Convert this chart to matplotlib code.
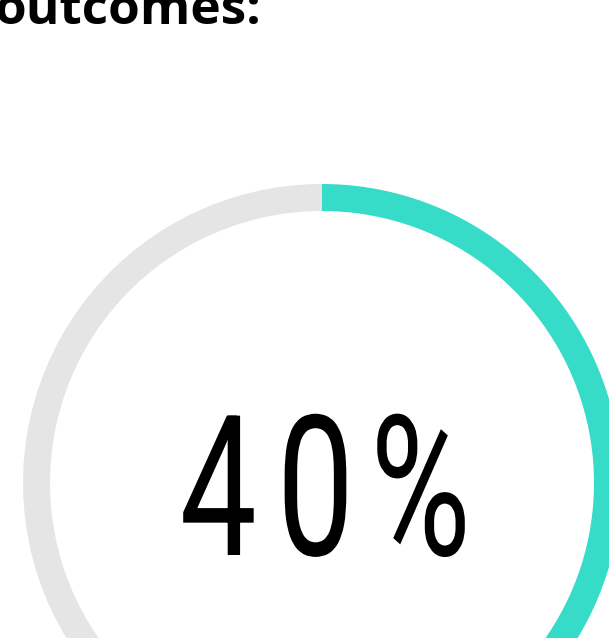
import matplotlib.pyplot as plt
from matplotlib.textpath import TextPath
from matplotlib.patches import PathPatch
from matplotlib.font_manager import FontProperties
from matplotlib.transforms import Affine2D

# donut: share of outcomes
labels = ['outcomes', 'rest']
values = [40, 60]
colors = ['#36dcc8', '#e5e5e5']
title = 'outcomes:'
center_text = '40%'

W, H = 609, 638
fig = plt.figure(figsize=(W / 100, H / 100), dpi=100)
ax = fig.add_axes([0, 0, 1, 1])

cx, cy = 322, 155
ax.pie(values, colors=colors, startangle=90, counterclock=False,
       radius=299, center=(cx, cy),
       wedgeprops=dict(width=27, linewidth=0))
ax.set_xlim(0, W)
ax.set_ylim(0, H)
ax.set_aspect('equal')
ax.axis('off')

# big number in the middle, narrow glyphs with wide tracking (DIN-like look)
fp = FontProperties(family='Roboto', weight='normal')
size = 196
squeeze = 0.7
gap = 31
glyphs = [TextPath((0, 0), ch, size=size, prop=fp) for ch in center_text]
widths = [g.get_extents().width * squeeze for g in glyphs]
total = sum(widths) + gap * (len(glyphs) - 1)
x = cx + 2 - total / 2
for g, w in zip(glyphs, widths):
    ext = g.get_extents()
    tr = Affine2D().translate(-ext.x0, 0).scale(squeeze, 1).translate(x, 83)
    ax.add_patch(PathPatch(tr.transform_path(g), fc='black', ec='none'))
    x += w + gap

# heading, cut off at the top of the crop
ax.text(-5, H - 24, title, ha='left', va='baseline',
        fontsize=37, family='Open Sans', fontweight='bold', color='black')

fig.savefig('out.png', dpi=100)
